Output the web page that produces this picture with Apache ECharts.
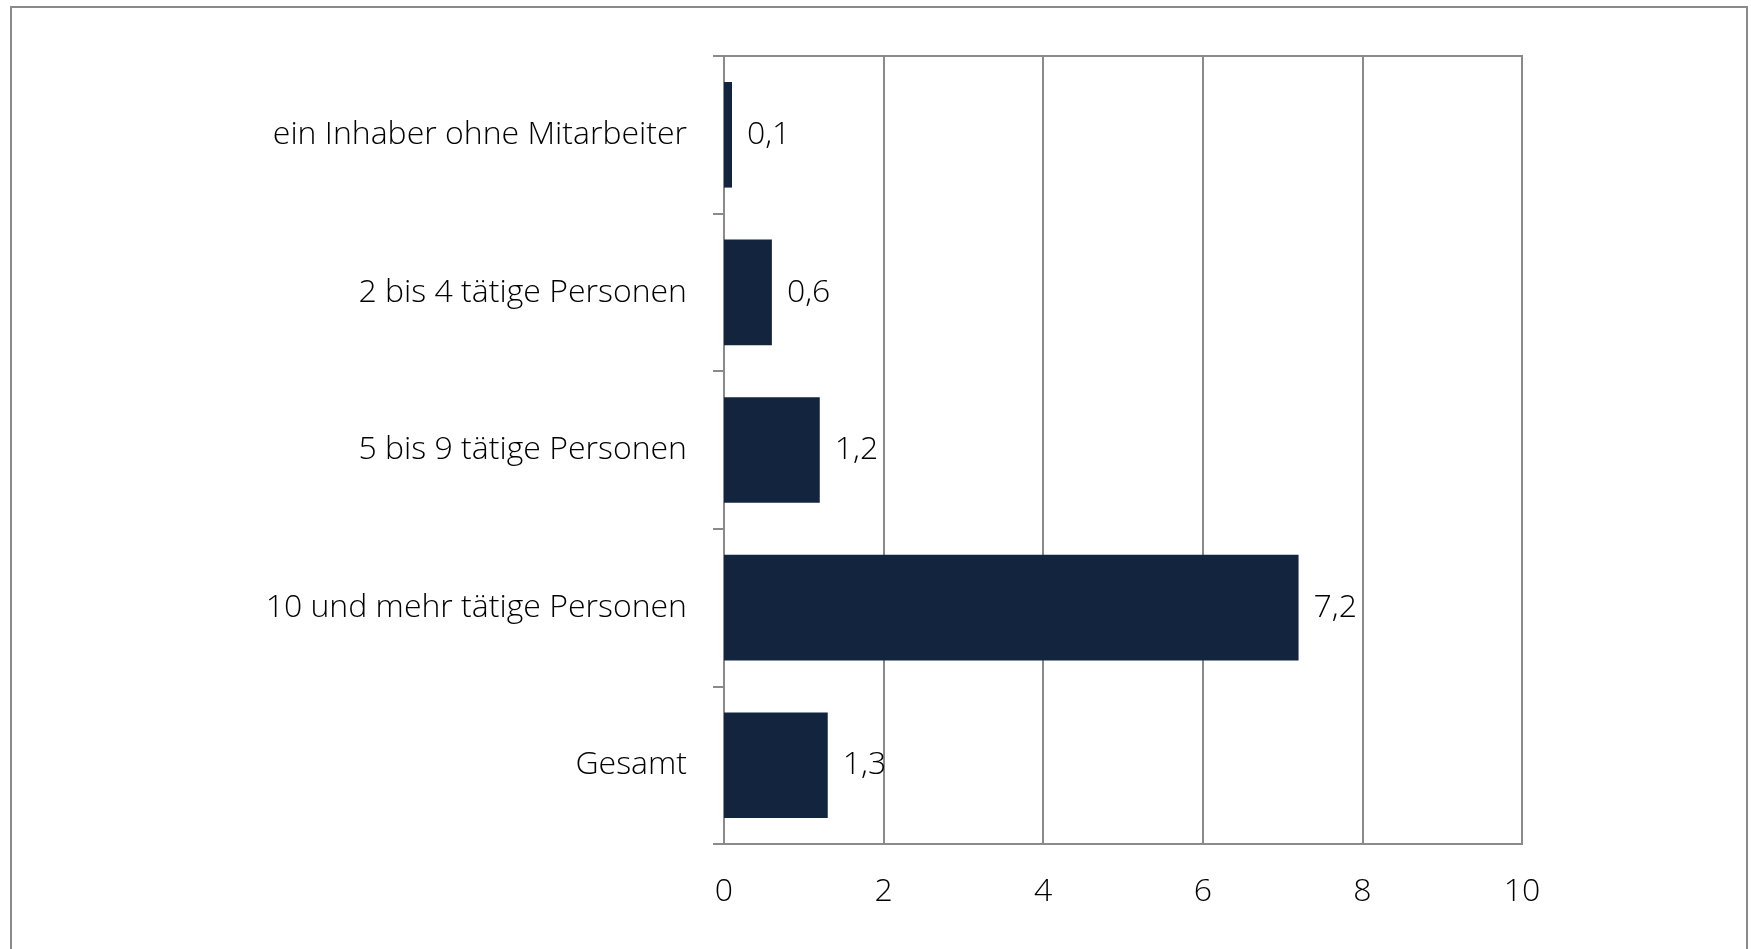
<!DOCTYPE html>
<html>
<head>
<meta charset="utf-8">
<title>Tätige Personen</title>
<script src="https://cdn.jsdelivr.net/npm/echarts@6/dist/echarts.min.js"></script>
<style>
  html, body {
    margin: 0;
    padding: 0;
    width: 1751px;
    height: 949px;
    background: #ffffff;
    overflow: hidden;
  }
  .frame {
    position: absolute;
    left: 10px;
    top: 6px;
    width: 1738px;
    height: 960px;
    border: 2px solid #8a8a8a;
    box-sizing: border-box;
  }
  #chart {
    position: absolute;
    left: 0;
    top: 0;
    width: 1751px;
    height: 949px;
  }
</style>
</head>
<body>
<div class="frame"></div>
<div id="chart"></div>
<script>
// Kategorien und Werte
const categories = [
  'ein Inhaber ohne Mitarbeiter',
  '2 bis 4 tätige Personen',
  '5 bis 9 tätige Personen',
  '10 und mehr tätige Personen',
  'Gesamt',
]
const values = [0.1, 0.6, 1.2, 7.2, 1.3]
const xTicks = [0, 2, 4, 6, 8, 10]

const fontFamily = '"Open Sans", "Noto Sans", sans-serif'
const gray = '#8a8a8a'

const chart = echarts.init(document.getElementById('chart'), null, { renderer: 'canvas' })

const option = {
  backgroundColor: 'transparent',
  animation: false,
  grid: {
    left: 724,
    right: 229,
    top: 56,
    bottom: 105,
    show: true,
    borderColor: gray,
    borderWidth: 2,
    containLabel: false,
  },
  xAxis: {
    type: 'value',
    min: xTicks[0],
    max: xTicks[xTicks.length - 1],
    interval: 2,
    axisLine: { show: true, lineStyle: { color: gray, width: 2 } },
    axisTick: { show: false },
    splitLine: { show: true, lineStyle: { color: gray, width: 2 } },
    axisLabel: {
      color: '#000',
      fontFamily,
      fontWeight: 300,
      fontSize: 32,
      margin: 32,
    },
  },
  yAxis: {
    type: 'category',
    inverse: true,
    data: categories,
    axisLine: { show: true, lineStyle: { color: gray, width: 2 } },
    axisTick: { show: true, length: 11, lineStyle: { color: gray, width: 2 } },
    splitLine: { show: false },
    axisLabel: {
      color: '#000',
      fontFamily,
      fontWeight: 300,
      fontSize: 32,
      margin: 37,
    },
  },
  series: [
    {
      type: 'bar',
      data: values,
      barCategoryGap: '33%',
      itemStyle: { color: '#13243e' },
      label: {
        show: true,
        position: 'right',
        distance: 15,
        color: '#000',
        fontFamily,
        fontWeight: 300,
        fontSize: 32,
        formatter: (p) => String(p.value).replace('.', ','),
      },
    },
  ],
}

chart.setOption(option)
</script>
</body>
</html>
